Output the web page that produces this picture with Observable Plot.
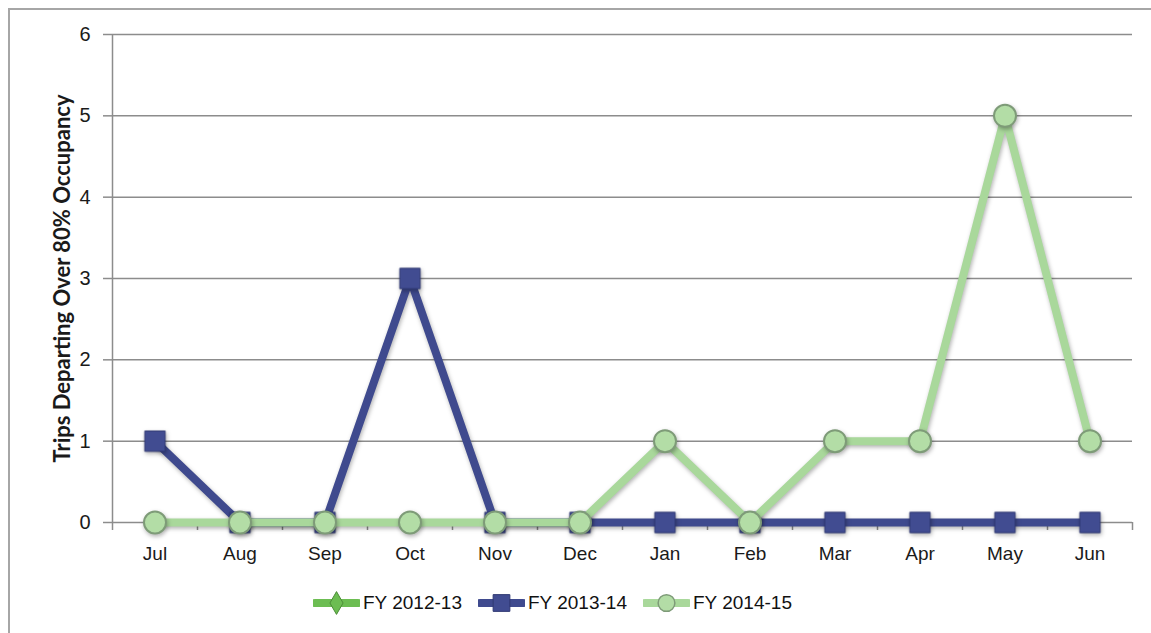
<!DOCTYPE html>
<html>
<head>
<meta charset="utf-8">
<script src="https://cdn.jsdelivr.net/npm/d3@7"></script>
<script src="https://cdn.jsdelivr.net/npm/@observablehq/plot@0.6"></script>
<style>
  html, body { margin: 0; padding: 0; background: #fff; overflow: hidden; width: 1151px; height: 633px; }
  #frame { position: absolute; left: 8px; top: 8px; width: 1200px; height: 700px; border: 2px solid #a6a6a6; box-sizing: border-box; pointer-events: none; }
  #chart { position: absolute; left: 0; top: 0; }
  #legend { position: absolute; top: 591px; left: 313px; display: flex; align-items: center;
    font-family: "Liberation Sans", Arial, sans-serif; font-size: 19px; color: #111; }
  .item { display: flex; align-items: center; }
  .item svg { display: block; margin-right: 3px; }
  .item span { display: inline-block; width: 115px; }
</style>
</head>
<body>
<div id="chart"></div>
<div id="legend"></div>
<div id="frame"></div>
<script>
const months = ["Jul","Aug","Sep","Oct","Nov","Dec","Jan","Feb","Mar","Apr","May","Jun"];
const fy1213 = [];
const fy1314 = [1,0,0,3,0,0,0,0,0,0,0,0];
const fy1415 = [0,0,0,0,0,0,1,0,1,1,5,1];
const yTicks = [0,1,2,3,4,5,6];
const seriesNames = ["FY 2012-13","FY 2013-14","FY 2014-15"];
const seriesColors = ["#6cbd52","#3f4a8e","#a9d89b"];
const markerFill = ["#6cbd52","#414c91","#b3dda6"];
const markerStroke = ["#4d8c3a","#2f3872","#7e9b78"];
const yLabel = "Trips Departing Over 80% Occupancy";

const idx = months.map((_, i) => i);
const xDomain = [-0.5, months.length - 0.5];
const bounds = d3.range(xDomain[0], xDomain[1] + 0.01, 1);

const rows = (vals, s) => vals.map((v, i) => ({i, v, s}));
const d1213 = rows(fy1213, seriesNames[0]);
const d1314 = rows(fy1314, seriesNames[1]);
const d1415 = rows(fy1415, seriesNames[2]);

const font = '"Liberation Sans", Arial, sans-serif';
const grid = "#8c8c8c";

const plot = Plot.plot({
  width: 1151,
  height: 575,
  marginLeft: 112,
  marginRight: 19,
  marginTop: 34,
  marginBottom: 53,
  style: {fontFamily: font, fontSize: "19px", color: "#1a1a1a", background: "transparent", overflow: "visible"},
  x: {type: "linear", domain: xDomain, axis: null},
  y: {domain: [0, 6], axis: null},
  marks: [
    Plot.gridY(yTicks, {stroke: grid, strokeOpacity: 1, strokeWidth: 1.5}),
    Plot.ruleX([xDomain[0]], {y1: 0, y2: 6, stroke: grid, strokeWidth: 1.5}),
    Plot.axisY(yTicks, {tickSize: 9, tickPadding: 13, stroke: grid, strokeWidth: 1.5, tickFormat: d => d, label: null, fontSize: 20}),
    Plot.axisY({ticks: [], label: yLabel, labelAnchor: "center", labelArrow: "none", labelOffset: 58,
      fontFamily: "Lato, 'Open Sans', sans-serif", fontWeight: "bold", fontSize: 22, tickSize: 0}),
    Plot.axisX(bounds, {tickSize: 8, stroke: grid, strokeWidth: 1.5, tickFormat: () => "", label: null}),
    Plot.axisX(idx, {tickSize: 0, tickPadding: 24, tickFormat: i => months[i], label: null, fontSize: 19}),
    Plot.line(d1213, {x: "i", y: "v", stroke: seriesColors[0], strokeWidth: 8}),
    Plot.line(d1314, {x: "i", y: "v", stroke: seriesColors[1], strokeWidth: 8}),
    Plot.dot(d1314, {x: "i", y: "v", symbol: "square", r: 11.5, fill: markerFill[1], stroke: markerStroke[1], strokeWidth: 1}),
    Plot.line(d1415, {x: "i", y: "v", stroke: seriesColors[2], strokeWidth: 8}),
    Plot.dot(d1415, {x: "i", y: "v", symbol: "circle", r: 11, fill: markerFill[2], stroke: markerStroke[2], strokeWidth: 2})
  ]
});
document.getElementById("chart").appendChild(plot);
d3.select(plot).selectAll('g[aria-label="dot"], g[aria-label="line"]')
  .style("filter", "drop-shadow(1px 2px 2px rgba(0,0,0,0.3))");

// legend
const legend = d3.select("#legend");
const symbols = [d3.symbolDiamond, d3.symbolSquare, d3.symbolCircle];
const sizes = [150, 280, 220];
seriesNames.forEach((name, k) => {
  const item = legend.append("div").attr("class", "item");
  const sw = item.append("svg").attr("width", 47).attr("height", 24);
  sw.append("line").attr("x1", 2).attr("x2", 45).attr("y1", 12).attr("y2", 12)
    .attr("stroke", seriesColors[k]).attr("stroke-width", 8).attr("stroke-linecap", "round");
  sw.append("path").attr("transform", "translate(23.5,12)")
    .attr("d", d3.symbol(symbols[k], sizes[k])())
    .attr("fill", markerFill[k]).attr("stroke", markerStroke[k]).attr("stroke-width", k === 2 ? 1.5 : 1);
  item.append("span").text(name);
});
</script>
</body>
</html>
